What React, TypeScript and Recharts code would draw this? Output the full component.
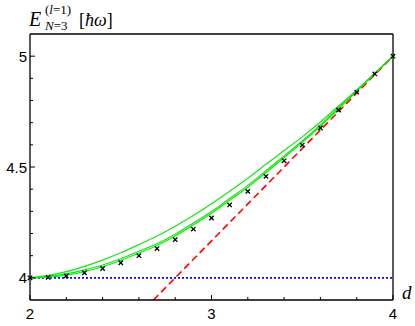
import React from "react";
import { ComposedChart, Line, Scatter, XAxis, YAxis } from "recharts";

// d values (every 0.1 from 2 to 4)
const dValues = [2.0, 2.1, 2.2, 2.3, 2.4, 2.5, 2.6, 2.7, 2.8, 2.9, 3.0, 3.1, 3.2, 3.3, 3.4, 3.5, 3.6, 3.7, 3.8, 3.9, 4.0];

// crosses (numerical)
const crossE = [4.0, 4.002, 4.009, 4.023, 4.042, 4.068, 4.1, 4.132, 4.172, 4.22, 4.27, 4.329, 4.39, 4.458, 4.528, 4.599, 4.676, 4.757, 4.838, 4.92, 5.0];

// green curves
const greenLowE = [4.0, 4.003, 4.012, 4.028, 4.05, 4.078, 4.112, 4.146, 4.189, 4.239, 4.291, 4.35, 4.409, 4.475, 4.542, 4.611, 4.684, 4.762, 4.841, 4.921, 5.0];
const greenMidE = [4.0, 4.007, 4.018, 4.036, 4.058, 4.086, 4.12, 4.154, 4.197, 4.247, 4.299, 4.358, 4.417, 4.483, 4.55, 4.617, 4.69, 4.768, 4.845, 4.923, 5.0];
const greenHighE = [4.0, 4.011, 4.028, 4.052, 4.08, 4.113, 4.15, 4.189, 4.233, 4.281, 4.334, 4.391, 4.449, 4.512, 4.574, 4.636, 4.703, 4.775, 4.848, 4.924, 5.0];

// asymptotes
const redD = [2.68, 4.0];
const redE = [3.9, 5.0];
const blueD = [2.0, 4.0];
const blueE = [4.0, 4.0];

// ticks
const xTicks = [2, 2.2, 2.4, 2.6, 2.8, 3, 3.2, 3.4, 3.6, 3.8, 4];
const xLabels = [2, 3, 4];
const yTicks = [4, 4.1, 4.2, 4.3, 4.4, 4.5, 4.6, 4.7, 4.8, 4.9, 5];
const yLabels = [4, 4.5, 5];

const toPoints = (ds: number[], es: number[]) => ds.map((d, i) => ({ d, e: es[i] }));

const crossData = toPoints(dValues, crossE);
const lowData = toPoints(dValues, greenLowE);
const midData = toPoints(dValues, greenMidE);
const highData = toPoints(dValues, greenHighE);
const redData = toPoints(redD, redE);
const blueData = toPoints(blueD, blueE);

const FONT = "'Liberation Sans', Arial, sans-serif";
const SERIF = "'Liberation Serif', 'Times New Roman', serif";
const GREEN = "#12e812";

const isLabel = (v: number, labels: number[]) => labels.some((l) => Math.abs(l - v) < 1e-6);
const tickLen = (major: boolean) => (major ? 5 : 3);

function BottomTick({ x, y, payload }: any) {
  const major = isLabel(payload.value, xLabels);
  return (
    <g>
      <line x1={x} y1={y} x2={x} y2={y - tickLen(major)} stroke="#000" strokeWidth={1} />
      {major && (
        <text x={x} y={y + 19} textAnchor="middle" fontSize={15} fontFamily={FONT} fill="#000">
          {payload.value}
        </text>
      )}
    </g>
  );
}

function TopTick({ x, y, payload }: any) {
  const major = isLabel(payload.value, xLabels);
  return <line x1={x} y1={y} x2={x} y2={y + tickLen(major)} stroke="#000" strokeWidth={1} />;
}

function LeftTick({ x, y, payload }: any) {
  const major = isLabel(payload.value, yLabels);
  return (
    <g>
      <line x1={x} y1={y} x2={x + tickLen(major)} y2={y} stroke="#000" strokeWidth={1} />
      {major && (
        <text x={x - 3} y={y + 5.5} textAnchor="end" fontSize={15} fontFamily={FONT} fill="#000">
          {payload.value}
        </text>
      )}
    </g>
  );
}

function RightTick({ x, y, payload }: any) {
  const major = isLabel(payload.value, yLabels);
  return <line x1={x} y1={y} x2={x - tickLen(major)} y2={y} stroke="#000" strokeWidth={1} />;
}

function Cross({ cx, cy }: any) {
  if (cx == null || cy == null) return null;
  const r = 2.2;
  return (
    <g stroke="#000" strokeWidth={1.3}>
      <line x1={cx - r} y1={cy - r} x2={cx + r} y2={cy + r} />
      <line x1={cx - r} y1={cy + r} x2={cx + r} y2={cy - r} />
    </g>
  );
}

export default function App() {
  const axisLine = { stroke: "#000", strokeWidth: 1.3 };
  return (
    <div style={{ position: "absolute", left: 0, top: 0, width: 415, height: 326, background: "#fff" }}>
      <ComposedChart width={415} height={326} margin={{ top: 33, right: 21, bottom: 0, left: 0 }}>
        <XAxis
          xAxisId="b"
          dataKey="d"
          type="number"
          domain={[2, 4]}
          ticks={xTicks}
          interval={0}
          height={26}
          tickSize={0}
          tickMargin={0}
          tickLine={false}
          axisLine={axisLine}
          tick={<BottomTick />}
        />
        <XAxis
          xAxisId="t"
          orientation="top"
          dataKey="d"
          type="number"
          domain={[2, 4]}
          ticks={xTicks}
          interval={0}
          height={1}
          tickSize={0}
          tickMargin={0}
          tickLine={false}
          axisLine={axisLine}
          tick={<TopTick />}
        />
        <YAxis
          yAxisId="l"
          dataKey="e"
          type="number"
          domain={[3.9, 5.1]}
          allowDataOverflow
          ticks={yTicks}
          interval={0}
          width={30}
          tickSize={0}
          tickMargin={0}
          tickLine={false}
          axisLine={axisLine}
          tick={<LeftTick />}
        />
        <YAxis
          yAxisId="r"
          orientation="right"
          dataKey="e"
          type="number"
          domain={[3.9, 5.1]}
          ticks={yTicks}
          interval={0}
          width={1}
          tickSize={0}
          tickMargin={0}
          tickLine={false}
          axisLine={axisLine}
          tick={<RightTick />}
        />

        <Line xAxisId="b" yAxisId="l" data={blueData} dataKey="e" stroke="#0000ff" strokeWidth={1.6}
          strokeDasharray="2 2" dot={false} activeDot={false} isAnimationActive={false} />
        <Line xAxisId="b" yAxisId="l" data={redData} dataKey="e" stroke="#ff0000" strokeWidth={1.6}
          strokeDasharray="7 4" dot={false} activeDot={false} isAnimationActive={false} />
        <Line xAxisId="b" yAxisId="l" type="monotone" data={lowData} dataKey="e" stroke={GREEN} strokeWidth={1.2}
          dot={false} activeDot={false} isAnimationActive={false} />
        <Line xAxisId="b" yAxisId="l" type="monotone" data={midData} dataKey="e" stroke={GREEN} strokeWidth={1.2}
          dot={false} activeDot={false} isAnimationActive={false} />
        <Line xAxisId="b" yAxisId="l" type="monotone" data={highData} dataKey="e" stroke={GREEN} strokeWidth={1.2}
          dot={false} activeDot={false} isAnimationActive={false} />
        <Scatter xAxisId="b" yAxisId="l" data={crossData} dataKey="e" shape={<Cross />} isAnimationActive={false} />
      </ComposedChart>

      {/* axis titles */}
      <svg width={415} height={326} style={{ position: "absolute", left: 0, top: 0, pointerEvents: "none" }}>
        <text x={29} y={26} fontFamily={SERIF} fontSize={20} fontStyle="italic">E</text>
        <text x={45} y={14} fontFamily={SERIF} fontSize={13}>
          (<tspan fontStyle="italic">l</tspan>=1)
        </text>
        <text x={45} y={30} fontFamily={SERIF} fontSize={13}>
          <tspan fontStyle="italic">N</tspan>=3
        </text>
        <text x={79} y={26} fontFamily={SERIF} fontSize={18}>
          [<tspan fontStyle="italic">ħω</tspan>]
        </text>
        <text x={402} y={299} fontFamily={SERIF} fontSize={19} fontStyle="italic">d</text>
      </svg>
    </div>
  );
}
